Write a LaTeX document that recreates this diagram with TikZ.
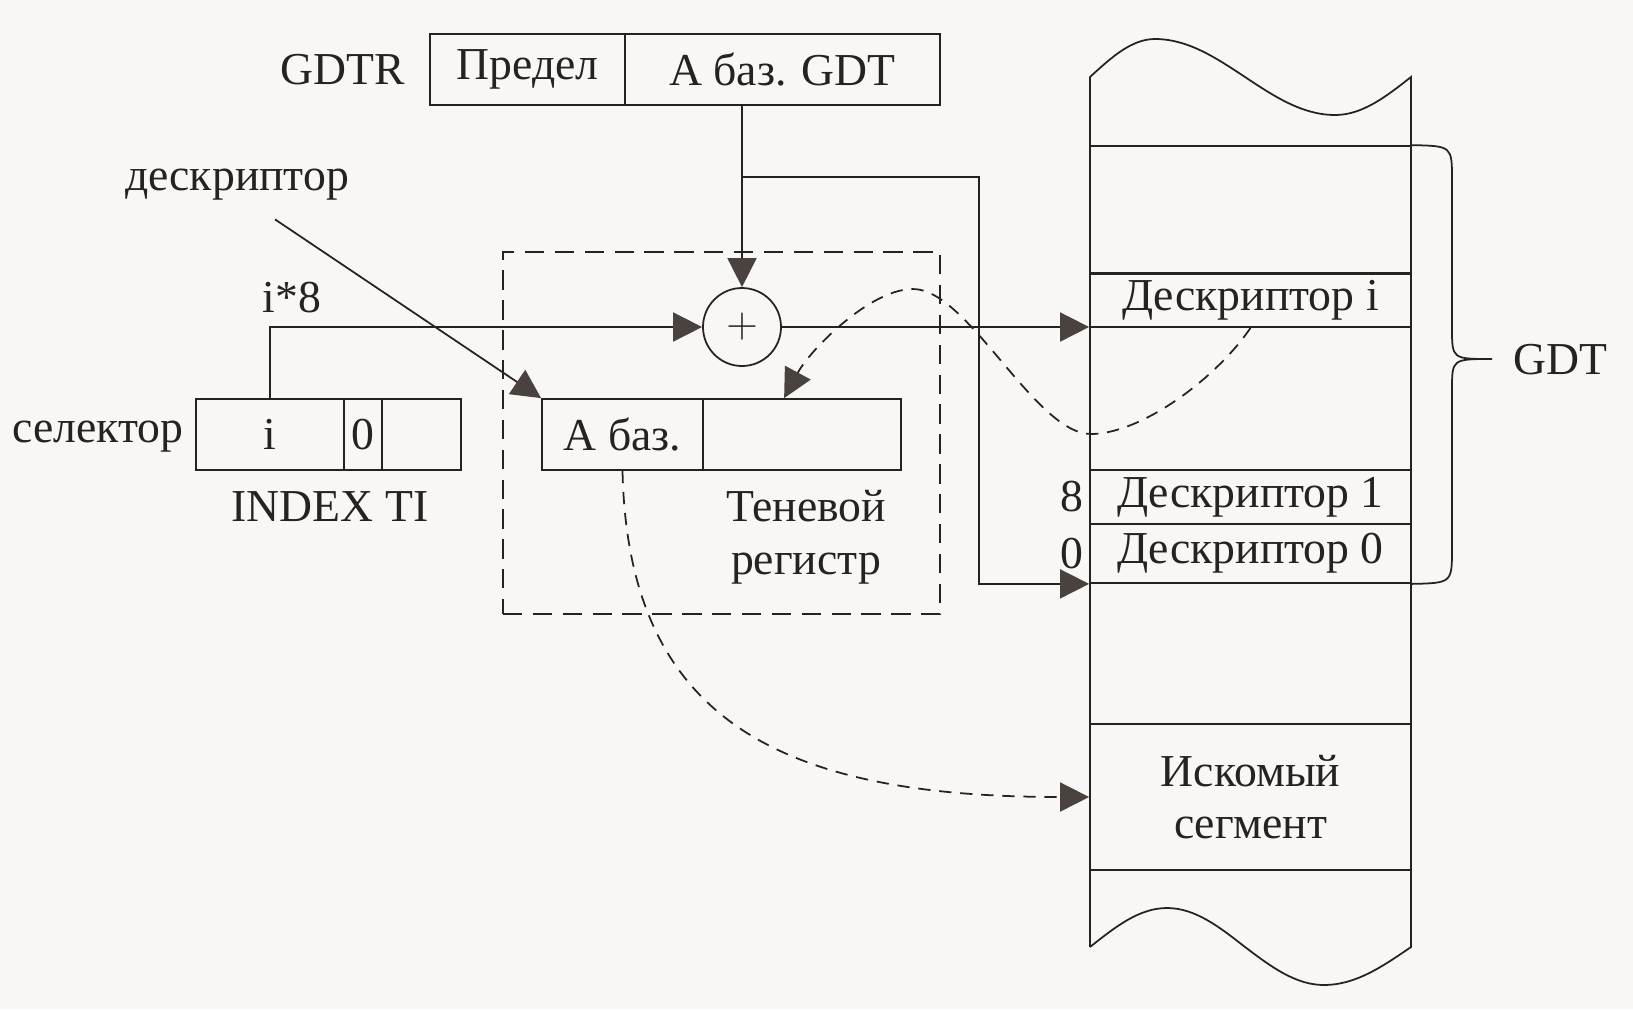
\documentclass[tikz,border=0pt]{standalone}
\usepackage{fontspec}
\setmainfont{Liberation Serif}
\usetikzlibrary{calc,arrows.meta}
\newcommand\px{0.02cm}
\definecolor{ink}{RGB}{38,34,32}
\definecolor{tipcol}{RGB}{74,66,62}
\definecolor{paper}{RGB}{248,247,246}

\begin{document}
\begin{tikzpicture}[x=\px,y=-\px,
  color=ink, line width=1pt,
  font=\fontsize{26}{30}\selectfont,
  cell/.style 2 args={draw, inner sep=0pt, minimum width=#1*\px, minimum height=#2*\px},
  arr/.style={-{Triangle[length=0.58cm,width=0.58cm,color=tipcol]}},
  dashline/.style={dash pattern=on 7pt off 5pt},
  dashbox/.style={dash pattern=on 11pt off 6pt, line width=1.2pt}]

  \fill [paper] (0,0) rectangle (1633,1009);
  \useasboundingbox (0,0) rectangle (1633,1009);

  % GDTR register
  \node (gdtr) at (343,69.5) {GDTR};

  \node
  [cell={195}{71}]
  (lim) at (527.5,69.5) {Предел};

  \node
  [cell={315}{71}]
  (gbase) at (782.5,69.5) {А баз. GDT};

  % adder
  \node
  [circle, draw, minimum size=78*\px, inner sep=0pt]
  (add) at (742,327) {$+$};

  % selector
  \node (sel) at (98,437) {селектор};

  \node
  [cell={148}{71}]
  (seli) at (270,434.5) {i};

  \node
  [cell={38}{71}]
  (selti) at (363,434.5) {0};

  \node
  [cell={79}{71}]
  (selrpl) at (421.5,434.5) {};

  \node (index) at (330,507) {INDEX TI};

  \node (desc) at (237,185) {дескриптор};

  \node (scale) at (292,298) {i*8};

  % shadow register
  \node
  [draw, dashbox, minimum width=437*\px, minimum height=362*\px]
  (shadow) at (721.5,433) {};

  \node
  [cell={161}{71}]
  (abase) at (622.5,434.5) {А баз.};

  \node
  [cell={198}{71}]
  (arest) at (802,434.5) {};

  \node
  [align=center]
  (shlabel) at (806,537) {Теневой\\регистр};

  % GDT in memory
  \node
  [cell={321}{127}]
  (row) at (1250.5,209.5) {};

  \node
  [cell={321}{53}]
  (di) at (1250.5,300.5) {Дескриптор i};

  \node
  [cell={321}{54}]
  (d1) at (1250.5,497) {Дескриптор 1};

  \node
  [cell={321}{59}]
  (d0) at (1250.5,553.5) {Дескриптор 0};

  \node
  [cell={321}{146}, align=center]
  (seg) at (1250.5,797) {Искомый\\сегмент};

  \draw
  (1090,947) -- (1090,77)
  sin (1155,39) cos (1245,77) sin (1335,115) cos (1411,77)
  -- (1411,947)
  sin (1324,985) cos (1245,947) sin (1167,908) cos (1090,947);

  \node
  [anchor=east, inner sep=3pt]
  (off1) at (d1.west) {8};

  \node
  [anchor=east, inner sep=3pt]
  (off0) at (d0.west) {0};

  \draw
  (row.north east)
  .. controls (1452,146) .. (1452,180)
  -- (1452,328)
  .. controls (1452,359) .. (1492,359)
  .. controls (1452,359) .. (1452,390)
  -- (1452,548)
  .. controls (1452,583) .. (d0.south east);

  \node (gdt) at (1560,360) {GDT};

  % connectors
  \coordinate (split) at (742,177);
  \coordinate (bend) at (979,177);

  \draw
  [arr]
  (add.north |- gbase.south) -- (add.north);

  \draw
  [arr]
  (split) -- (bend) |- (d0.south west);

  \draw
  [arr]
  (seli.north) |- (add.west);

  \draw
  [arr]
  (add.east) -- (add.east -| di.west);

  \draw
  [arr]
  ($(desc.south)+(38,12)$) -- (abase.north west);

  \draw
  [arr, dashline]
  (di.south)
  .. controls (1215,380) and (1140,434) .. (1091,434)
  .. controls (1035,434) and (968,289) .. (913,289)
  .. controls (870,289) and (810,350) .. ($(arest.north west)+(82,0)$);

  \draw
  [arr, dashline]
  (abase.south)
  .. controls (628,720) and (780,797) .. (seg.west);
\end{tikzpicture}
\end{document}
